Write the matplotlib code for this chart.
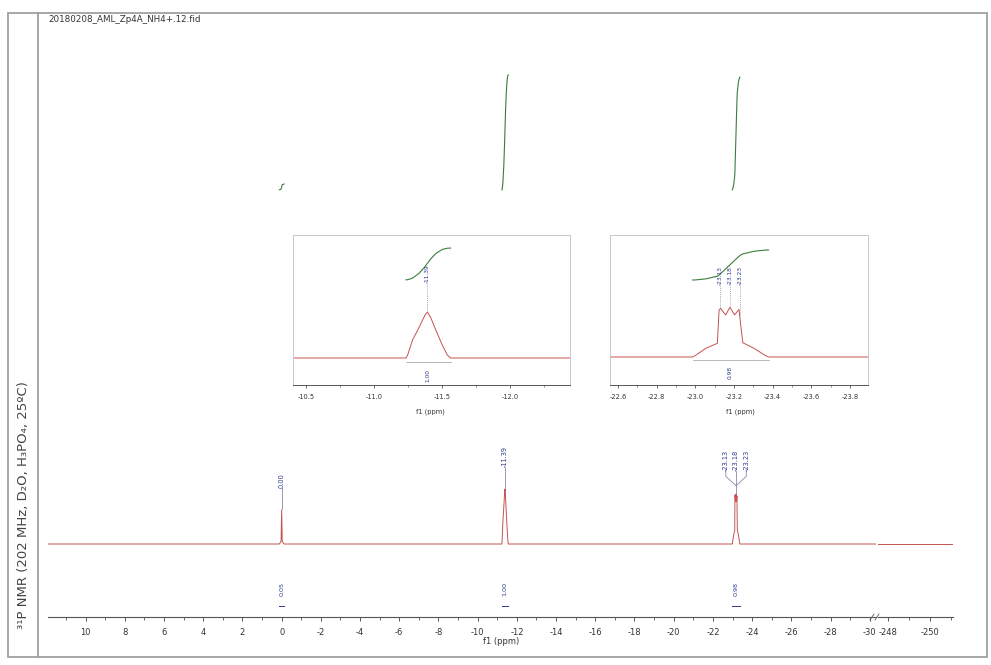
import numpy as np
import matplotlib
matplotlib.use("Agg")
import matplotlib.pyplot as plt
from matplotlib.ticker import MultipleLocator, FormatStrFormatter
from matplotlib.patches import Rectangle
from matplotlib.lines import Line2D

plt.rcParams['font.family'] = ['DejaVu Sans']
plt.rcParams['axes.unicode_minus'] = False

# ---- spectrum data: chemical shift (ppm) and normalised intensity ----
sig0_ppm = [0.12, 0.03, 0.0, -0.03, -0.12]
sig0_int = [0.0, 0.05, 0.62, 0.05, 0.0]

sig1_ppm = [-11.235, -11.247, -11.283, -11.332, -11.374, -11.393,
            -11.418, -11.454, -11.502, -11.539, -11.563]
sig1_int = [0.0, 0.065, 0.39, 0.67, 0.93, 1.0, 0.87, 0.61, 0.28, 0.065, 0.0]

sig2_ppm = [-22.986, -23.000, -23.055, -23.114, -23.123, -23.131, -23.157,
            -23.179, -23.203, -23.226, -23.236, -23.246, -23.303, -23.362, -23.379]
sig2_int = [0.0, 0.027, 0.16, 0.25, 0.86, 0.89, 0.77, 0.91, 0.77, 0.87,
            0.55, 0.26, 0.16, 0.027, 0.0]

left_window = [11.92, -30.32]
right_window = [-247.52, -251.1]

peak_ppm = [0.00, -11.39, -23.13, -23.18, -23.23]
peak_labels = ['0.00', '-11.39', '-23.13', '-23.18', '-23.23']

integral_values = [0.05, 1.00, 0.98]
integral_labels = ['0.05', '1.00', '0.98']

title_text = '20180208_AML_Zp4A_NH4+.12.fid'
side_text = '³¹P NMR (202 MHz, D₂O, H₃PO₄, 25ºC)'

# ---- styling ----
SPEC = '#c4524f'
INTEG = '#3b7d3b'
LABEL = '#2c3a8c'
AXC = '#555555'
TXT = '#333333'

W, H = 991, 665
fig = plt.figure(figsize=(W / 100, H / 100), dpi=100)


def frac(x0, y0, x1, y1):
    """pixel box (top-left origin) -> figure fraction rect"""
    return [x0 / W, (H - y1) / H, (x1 - x0) / W, (y1 - y0) / H]


def full_spectrum():
    ppm = [left_window[0]] + sig0_ppm + sig1_ppm + sig2_ppm + [left_window[1]]
    inten = [0.0] + sig0_int + sig1_int + sig2_int + [0.0]
    return np.array(ppm), np.array(inten)


def integral_curve(ppm, inten, value, base, scale):
    p = np.asarray(ppm, float)
    y = np.asarray(inten, float)
    seg = 0.5 * (y[1:] + y[:-1]) * np.abs(np.diff(p))
    cum = np.concatenate([[0.0], np.cumsum(seg)])
    return p, base + value * scale * cum / cum[-1]


regions = [(sig0_ppm, sig0_int), (sig1_ppm, sig1_int), (sig2_ppm, sig2_int)]

# ---- outer frame ----
fig.patches.append(Rectangle((8 / W, (H - 657) / H), 979 / W, 644 / H,
                             transform=fig.transFigure, fill=False,
                             edgecolor='#a0a0a0', lw=1.3))
fig.lines.append(Line2D([38 / W, 38 / W], [(H - 657) / H, (H - 13) / H],
                        transform=fig.transFigure, color='#a0a0a0', lw=1.3))
fig.text(48 / W, 1 - 19 / H, title_text, fontsize=6.3, color=TXT,
         va='center', ha='left')
fig.text(24 / W, 1 - 505 / H, side_text, fontsize=9.5, color='#444444',
         rotation=90, va='center', ha='center')

# ---- main axes (two segments of a broken ppm axis) ----
ylo, yhi = -1.327, 9.527
axL = fig.add_axes(frac(48, 20, 876, 617))
axR = fig.add_axes(frac(878, 20, 953, 617))
ppm, inten = full_spectrum()
axL.plot(ppm, inten, color=SPEC, lw=0.7)
axR.plot(right_window, [0, 0], color=SPEC, lw=0.7)
axL.set_xlim(*left_window)
axR.set_xlim(*right_window)
for ax in (axL, axR):
    ax.set_ylim(ylo, yhi)
    for s in ('top', 'left', 'right'):
        ax.spines[s].set_visible(False)
    ax.spines['bottom'].set_color(AXC)
    ax.spines['bottom'].set_linewidth(0.8)
    ax.set_yticks([])
    ax.patch.set_alpha(0)
    ax.tick_params(axis='x', which='major', labelsize=6, length=3, pad=5,
                   color=AXC, labelcolor=TXT, width=0.7)
    ax.tick_params(axis='x', which='minor', length=2, color=AXC, width=0.6)
axL.xaxis.set_major_locator(MultipleLocator(2))
axL.xaxis.set_minor_locator(MultipleLocator(1))
axR.xaxis.set_major_locator(MultipleLocator(2))
axR.xaxis.set_minor_locator(MultipleLocator(1))
axL.xaxis.set_major_formatter(FormatStrFormatter('%d'))
axR.xaxis.set_major_formatter(FormatStrFormatter('%d'))
fig.text(501 / W, 1 - 642 / H, 'f1 (ppm)', fontsize=6, color=TXT,
         ha='center', va='center')

# axis break marks
for bx in (872, 877):
    fig.lines.append(Line2D([(bx - 2) / W, (bx + 2) / W],
                            [(H - 620) / H, (H - 614) / H],
                            transform=fig.transFigure, color=AXC, lw=0.6))

# main integral curves and labels
main_base, main_scale = 6.44, 2.09
for (p, y), val, lab in zip(regions, integral_values, integral_labels):
    xi, yi = integral_curve(p, y, val, main_base, main_scale)
    axL.plot(xi, yi, color=INTEG, lw=0.8)
    xc = 0.5 * (p[0] + p[-1])
    axL.text(xc, -0.82, lab, rotation=90, fontsize=4.6, color=LABEL,
             ha='center', va='center')
    axL.plot([p[0], p[-1]], [-1.13, -1.13], color=LABEL, lw=0.7)

# main peak labels
gap = 0.4
for i in (0, 1):
    pk = peak_ppm[i]
    top = max(regions[i][1])
    axL.text(pk, top + gap, peak_labels[i], rotation=90, fontsize=4.8,
             color=LABEL, ha='center', va='bottom')
    axL.plot([pk, pk], [top + 0.02, top + gap], color='#8a8aa8', lw=0.6)
# multiplet: spread labels joined into one leader
mc = peak_ppm[3]
top2 = max(sig2_int)
spread = [-0.52, 0.0, 0.52]
for k, off in enumerate(spread):
    lx = mc + (-off)
    axL.text(lx, top2 + 0.42, peak_labels[2 + k], rotation=90, fontsize=4.8,
             color=LABEL, ha='center', va='bottom')
    axL.plot([lx, lx, mc], [top2 + 0.42, top2 + 0.32, top2 + 0.15],
             color='#8a8aa8', lw=0.6)
axL.plot([mc, mc], [top2 + 0.02, top2 + 0.15], color='#8a8aa8', lw=0.6)


# ---- insets ----
def make_inset(rect, xlim, ylim, major, minor, label_x):
    ax = fig.add_axes(rect)
    ax.plot(ppm, inten, color=SPEC, lw=0.7)
    ax.set_xlim(*xlim)
    ax.set_ylim(*ylim)
    ax.set_yticks([])
    for s in ('top', 'left', 'right'):
        ax.spines[s].set_color('#c8c8c8')
        ax.spines[s].set_linewidth(0.7)
    ax.spines['bottom'].set_color(AXC)
    ax.spines['bottom'].set_linewidth(0.7)
    ax.xaxis.set_major_locator(MultipleLocator(major))
    ax.xaxis.set_minor_locator(MultipleLocator(minor))
    ax.xaxis.set_major_formatter(FormatStrFormatter('%.1f'))
    ax.tick_params(axis='x', which='major', labelsize=4.8, length=2.5,
                   pad=4, color=AXC, labelcolor=TXT, width=0.6)
    ax.tick_params(axis='x', which='minor', length=1.5, color=AXC, width=0.5)
    fig.text(label_x / W, 1 - 412 / H, 'f1 (ppm)', fontsize=4.8, color=TXT,
             ha='center', va='center')
    return ax


ax1 = make_inset(frac(293, 235, 570, 385), (-10.404, -12.441),
                 (-0.587, 2.674), 0.5, 0.25, 430)
ax2 = make_inset(frac(610, 235, 868, 385), (-22.559, -23.893),
                 (-0.513, 2.234), 0.2, 0.1, 740)

# inset 1: single peak
xi, yi = integral_curve(sig1_ppm, sig1_int, integral_values[1], 1.70, 0.69)
ax1.plot(xi, yi, color=INTEG, lw=0.8)
ax1.text(peak_ppm[1], 1.63, peak_labels[1], rotation=90, fontsize=4.2,
         color=LABEL, ha='center', va='bottom')
ax1.plot([peak_ppm[1]] * 2, [max(sig1_int) + 0.03, 1.63], color='#8a8aa8',
         lw=0.5, ls=(0, (1.5, 1.5)))
c1 = 0.5 * (sig1_ppm[0] + sig1_ppm[-1])
ax1.text(c1, -0.37, integral_labels[1], rotation=90, fontsize=4.2,
         color=LABEL, ha='center', va='center')
ax1.plot([sig1_ppm[0], sig1_ppm[-1]], [-0.08, -0.08], color='#9a9a9a', lw=0.5)

# inset 2: multiplet
xi, yi = integral_curve(sig2_ppm, sig2_int, integral_values[2], 1.41, 0.56)
ax2.plot(xi, yi, color=INTEG, lw=0.8)
for k in range(3):
    pk = peak_ppm[2 + k]
    ax2.text(pk, 1.32, peak_labels[2 + k], rotation=90, fontsize=4.2,
             color=LABEL, ha='center', va='bottom')
    ytop = float(np.interp(-pk, -np.array(sig2_ppm), sig2_int))
    ax2.plot([pk, pk], [ytop + 0.03, 1.32], color='#8a8aa8', lw=0.5,
             ls=(0, (1.5, 1.5)))
c2 = 0.5 * (sig2_ppm[0] + sig2_ppm[-1])
ax2.text(c2, -0.29, integral_labels[2], rotation=90, fontsize=4.2,
         color=LABEL, ha='center', va='center')
ax2.plot([sig2_ppm[0], sig2_ppm[-1]], [-0.06, -0.06], color='#9a9a9a', lw=0.5)

fig.savefig('out.png', dpi=100, facecolor='white')
